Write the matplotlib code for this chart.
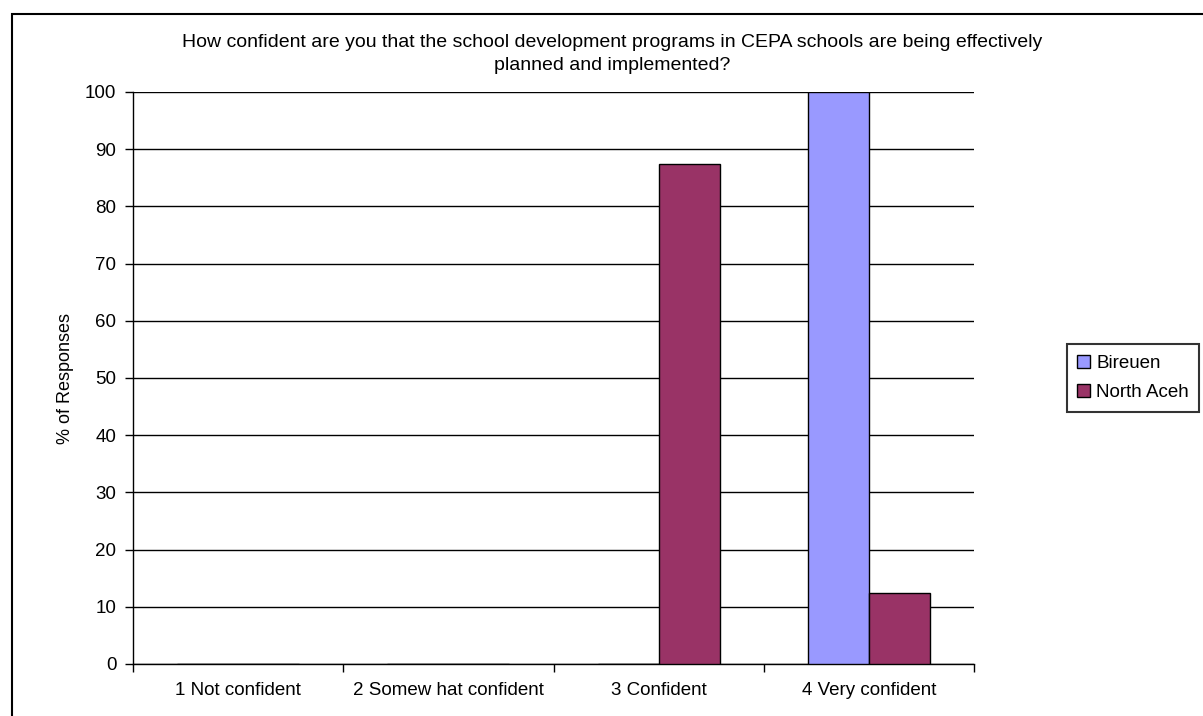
import numpy as np
import matplotlib
matplotlib.use('Agg')
import matplotlib.pyplot as plt
from matplotlib.patches import Rectangle

categories = ['1 Not confident', '2 Somew hat confident', '3 Confident', '4 Very confident']
bireuen = [0, 0, 0, 100]
north_aceh = [0, 0, 87.5, 12.5]
series_names = ['Bireuen', 'North Aceh']
title = ('How confident are you that the school development programs in CEPA schools are being effectively\n'
         'planned and implemented?')

plt.rcParams['font.family'] = ['Liberation Sans', 'DejaVu Sans']
fs = 13.5

fig = plt.figure(figsize=(12.03, 7.16), dpi=100)
ax = fig.add_axes([133/1203, 1 - 664/716, (974 - 133)/1203, (664 - 92)/716])

x = np.arange(len(categories))
w = 0.29
ax.bar(x - w/2, bireuen, w, color='#9999FF', edgecolor='black', linewidth=1, label=series_names[0], zorder=3)
ax.bar(x + w/2, north_aceh, w, color='#993366', edgecolor='black', linewidth=1, label=series_names[1], zorder=3)

ax.set_xlim(-0.5, len(categories) - 0.5)
ax.set_ylim(0, 100)
ax.set_yticks(np.arange(0, 101, 10))
ax.yaxis.grid(True, color='black', linewidth=1)
ax.set_axisbelow(True)

# category boundaries get the tick marks, labels sit in between
ax.set_xticks(np.arange(-0.5, len(categories)), labels=[])
ax.set_xticks(x, labels=categories, minor=True)
ax.tick_params(axis='x', which='major', direction='out', length=6, width=1, color='black')
ax.tick_params(axis='x', which='minor', length=0, pad=13, labelsize=fs)
ax.tick_params(axis='y', direction='out', length=6, width=1, labelsize=fs, pad=6)

for s in ['top', 'right']:
    ax.spines[s].set_visible(False)
for s in ['left', 'bottom']:
    ax.spines[s].set_linewidth(1)
    ax.spines[s].set_color('black')

ax.set_ylabel('% of Responses', fontsize=fs - 0.5, labelpad=8)

fig.text(612/1203, 1 - 54/716, title, ha='center', va='center', fontsize=fs + 0.5, linespacing=1.45)

leg = fig.legend(loc='center left', bbox_to_anchor=(1067/1203, 1 - 378/716), frameon=True,
                 fancybox=False, edgecolor='black', fontsize=fs, handlelength=0.7, handleheight=0.7,
                 handletextpad=0.3, borderpad=0.55, labelspacing=0.65, borderaxespad=0)
leg.get_frame().set_linewidth(1.5)

# chart area border (only top and left edges fall inside the picture)
fig.patches.append(Rectangle((12/1203, -0.2), 1.2, 1 - 14/716 + 0.2, transform=fig.transFigure,
                             fill=False, edgecolor='black', linewidth=1.5, clip_on=False))

fig.savefig('out.png', dpi=100)
